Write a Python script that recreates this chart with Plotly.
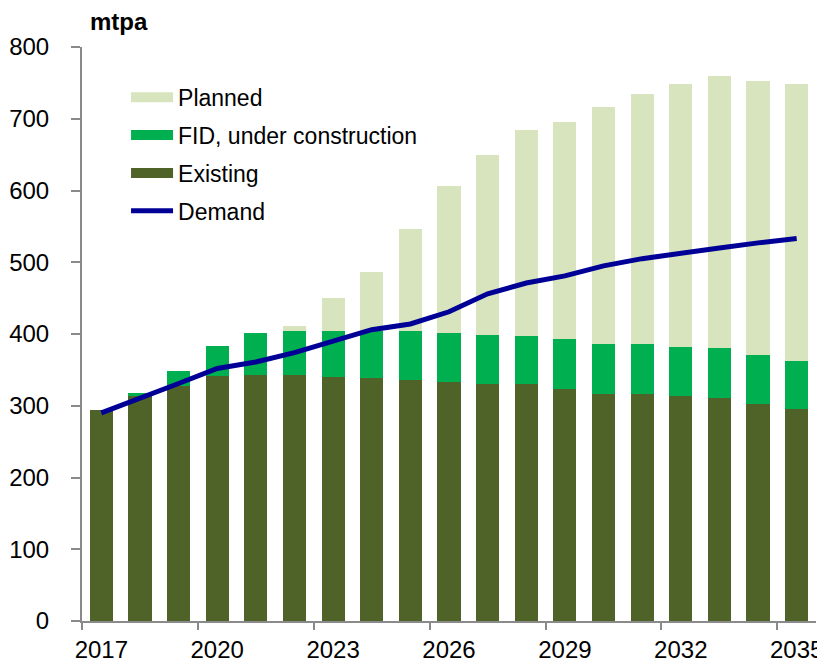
import plotly.graph_objects as go

years = list(range(2017, 2036))
existing = [294, 314, 327, 341, 343, 343, 340, 339, 336, 333, 330, 330, 323, 317, 317, 314, 311, 302, 295]
fid = [0, 4, 22, 42, 58, 61, 64, 65, 68, 68, 69, 67, 70, 69, 69, 68, 69, 69, 67]
totals = [294, 318, 349, 383, 401, 411, 450, 486, 546, 606, 649, 685, 696, 717, 735, 749, 760, 753, 748]
demand = [290, 310, 331, 352, 361, 374, 390, 406, 414, 431, 456, 471, 481, 495, 505, 513, 520, 527, 533]
planned = [t - e - f for t, e, f in zip(totals, existing, fid)]

tick_years = [2017, 2020, 2023, 2026, 2029, 2032, 2035]
y_ticks = [0, 100, 200, 300, 400, 500, 600, 700, 800]

FONT = "Liberation Sans"
AX = "#8a8a8a"
C_EX, C_FID, C_PL, C_DEM = "#4F6228", "#00B050", "#D7E4BD", "#000096"

fig = go.Figure()
series = [("Existing", existing, C_EX, 3, "c"),
          ("FID, under construction", fid, C_FID, 2, "b"),
          ("Planned", planned, C_PL, 1, "a")]
for name, vals, col, rank, grp in series:
    fig.add_trace(go.Bar(x=years, y=vals, name=name, marker=dict(color=col, line=dict(width=0)),
                         width=0.6, showlegend=False, legendgroup=grp))
    # legend swatch drawn as a wide, thick line (rectangle-like patch)
    fig.add_trace(go.Scatter(x=[None], y=[None], name=name, mode="lines",
                             line=dict(color=col, width=14), legendrank=rank, legendgroup=grp,
                             hoverinfo="skip"))
fig.add_trace(go.Scatter(x=years, y=demand, name="Demand", mode="lines",
                         line=dict(color=C_DEM, width=5), legendrank=4, legendgroup="d"))

fig.update_layout(
    width=817, height=658,
    barmode="stack",
    plot_bgcolor="white", paper_bgcolor="white",
    margin=dict(l=74, r=9, t=39, b=44.5, autoexpand=False),
    font=dict(family=FONT, size=24, color="#000000"),
    showlegend=True,
    legend=dict(x=0.06, y=0.95, xanchor="left", yanchor="top", bgcolor="rgba(0,0,0,0)",
                font=dict(family=FONT, size=23), itemwidth=42, tracegroupgap=5,
                traceorder="grouped"),
    xaxis=dict(range=[2016.5, 2035.5], tickmode="array", tickvals=tick_years,
               ticktext=[str(t) for t in tick_years], ticks="", showgrid=False,
               showline=True, linecolor=AX, linewidth=2, zeroline=False, automargin=False,
               tickfont=dict(family=FONT, size=24), ticklabelstandoff=6,
               minor=dict(tickmode="array", tickvals=[y - 0.5 for y in tick_years],
                          ticks="outside", ticklen=7, tickcolor=AX, tickwidth=2, showgrid=False)),
    yaxis=dict(range=[0, 800], tickmode="array", tickvals=y_ticks, ticks="outside", ticklen=9,
               tickcolor=AX, tickwidth=2, showgrid=False, showline=True, linecolor=AX, linewidth=2,
               zeroline=False, automargin=False, tickfont=dict(family=FONT, size=24), ticklabelstandoff=17),
    annotations=[dict(text="<b>mtpa</b>", xref="paper", yref="paper", x=0.008, y=1.0,
                      xanchor="left", yanchor="bottom", yshift=10, showarrow=False,
                      font=dict(family=FONT, size=24, color="#000000"))],
)

fig.write_html("out.html")
